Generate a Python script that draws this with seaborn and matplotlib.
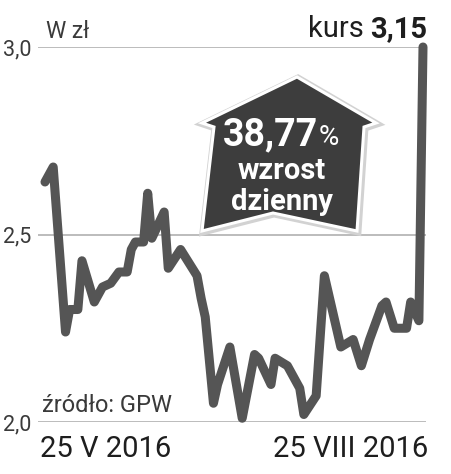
import matplotlib
matplotlib.use("Agg")
import matplotlib.pyplot as plt
from matplotlib.patches import Polygon
import seaborn as sns
import pandas as pd

# kurs akcji
daty = [
    "2016-05-25", "2016-05-27", "2016-05-30", "2016-05-31", "2016-06-02",
    "2016-06-03", "2016-06-06", "2016-06-08", "2016-06-10", "2016-06-12",
    "2016-06-14", "2016-06-15", "2016-06-16", "2016-06-18", "2016-06-19",
    "2016-06-20", "2016-06-23", "2016-06-24", "2016-06-27", "2016-07-01",
    "2016-07-02", "2016-07-03", "2016-07-05", "2016-07-06", "2016-07-09",
    "2016-07-12", "2016-07-15", "2016-07-16", "2016-07-19", "2016-07-20",
    "2016-07-23", "2016-07-26", "2016-07-27", "2016-07-30", "2016-08-01",
    "2016-08-05", "2016-08-08", "2016-08-10", "2016-08-12", "2016-08-15",
    "2016-08-16", "2016-08-18", "2016-08-21", "2016-08-22", "2016-08-24",
    "2016-08-25",
]
kurs = [
    2.64, 2.68, 2.24, 2.30, 2.30, 2.43, 2.32, 2.36, 2.37, 2.40,
    2.40, 2.46, 2.48, 2.48, 2.61, 2.49, 2.56, 2.41, 2.46, 2.39,
    2.33, 2.28, 2.05, 2.10, 2.20, 2.01, 2.18, 2.17, 2.10, 2.17,
    2.15, 2.09, 2.02, 2.07, 2.39, 2.20, 2.22, 2.15, 2.22, 2.31,
    2.32, 2.25, 2.25, 2.32, 2.27, 3.00,
]
y_ticks = [2.0, 2.5, 3.0]
y_labels = ["2,0", "2,5", "3,0"]
x_labels = ["25 V 2016", "25 VIII 2016"]

df = pd.DataFrame({"data": pd.to_datetime(daty), "kurs": kurs})

sns.set_theme(style="white")
plt.rcParams["font.family"] = ["Roboto", "DejaVu Sans"]

W, H = 452, 474
fig = plt.figure(figsize=(W / 100, H / 100), dpi=100)


def fx(px):
    return px / W


def fy(py):
    return 1 - py / H


ax = fig.add_axes([fx(38), fy(422), fx(426) - fx(38), fy(47) - fy(422)])

sns.lineplot(
    data=df, x="data", y="kurs", ax=ax,
    color="#555555", linewidth=6.5,
    solid_capstyle="round", solid_joinstyle="round",
    clip_on=False, zorder=3,
)

start = df["data"].iloc[0]
end = df["data"].iloc[-1]
ax.set_xlim(start - pd.Timedelta(days=1.7), end + pd.Timedelta(days=0.73))
ax.set_ylim(2.0, 3.0)

ax.set_yticks(y_ticks)
ax.set_yticklabels(y_labels, fontsize=15.5, color="#3a3a3a")
ax.tick_params(axis="y", length=0, pad=5)
ax.set_xticks([])
ax.yaxis.grid(True, color="#b0b0b0", linewidth=1.2)
ax.set_xlabel("")
ax.set_ylabel("")
for s in ax.spines.values():
    s.set_visible(False)
ax.patch.set_alpha(0)

# napisy
fig.text(fx(46), fy(38), "W zł", fontsize=16.5, color="#3a3a3a",
         ha="left", va="baseline")
fig.text(fx(42), fy(412), "źródło: GPW", fontsize=17, color="#3a3a3a",
         ha="left", va="baseline")
fig.text(fx(40), fy(457), x_labels[0], fontsize=21, color="#1e1e1e",
         ha="left", va="baseline")
fig.text(fx(428), fy(457), x_labels[1], fontsize=21, color="#1e1e1e",
         ha="right", va="baseline")

fig.text(fx(427), fy(37), "3,15", fontsize=21, color="#1e1e1e",
         fontweight="bold", ha="right", va="baseline")
fig.text(fx(364), fy(37), "kurs", fontsize=21, color="#1e1e1e",
         ha="right", va="baseline")

# strzalka z procentem
pts = [(297, 77), (376, 123), (364, 127), (357, 231), (273, 213),
       (202, 231), (214, 127), (202, 123)]
pts_fig = [(fx(x), fy(y)) for x, y in pts]
shadow = Polygon([(fx(x + 1), fy(y + 1)) for x, y in pts], closed=True,
                 transform=fig.transFigure, facecolor="#bdbdbd",
                 edgecolor="#d2d2d2", linewidth=5, zorder=4)
badge = Polygon(pts_fig, closed=True, transform=fig.transFigure,
                facecolor="#3d3d3d", edgecolor="white", linewidth=2.2,
                joinstyle="miter", zorder=5)
fig.add_artist(shadow)
fig.add_artist(badge)

fig.text(fx(318), fy(145), "38,77", fontsize=27, color="white",
         fontweight="bold", ha="right", va="baseline", zorder=6)
fig.text(fx(319), fy(145), "%", fontsize=20, color="white",
         ha="left", va="baseline", zorder=6)
fig.text(fx(282), fy(179), "wzrost", fontsize=21, color="white",
         fontweight="bold", ha="center", va="baseline", zorder=6)
fig.text(fx(282), fy(210), "dzienny", fontsize=21, color="white",
         fontweight="bold", ha="center", va="baseline", zorder=6)

fig.savefig("out.png", dpi=100)
